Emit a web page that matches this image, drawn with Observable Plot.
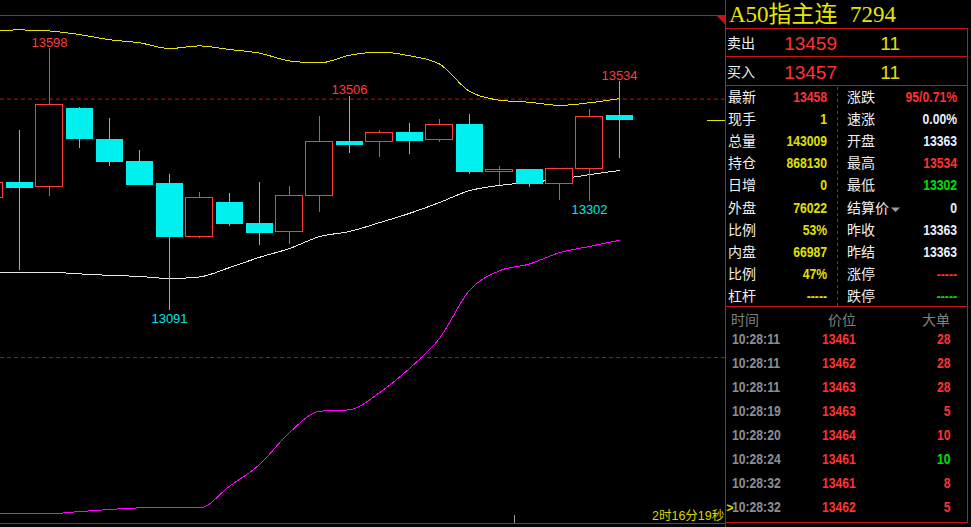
<!DOCTYPE html>
<html><head><meta charset="utf-8">
<script src="https://cdn.jsdelivr.net/npm/d3@7"></script>
<script src="https://cdn.jsdelivr.net/npm/@observablehq/plot@0.6"></script>
<style>
html,body{margin:0;padding:0;background:#000;}
#wrap{position:relative;width:971px;height:527px;overflow:hidden;background:#000;}
#chart{position:absolute;left:0;top:0;width:725px;height:527px;}
#panel{position:absolute;left:0;top:0;}
</style></head><body>
<div id="wrap"><div id="chart"></div><svg id="panel" width="971" height="527"></svg></div>
<script>
// ---- candle data (one bar per period, index 0..21) ----
const open  = [13308,13339,13330,13482,13422,13379,13337,13233,13300,13259,13243,13313,13418,13417,13435,13421,13451,13359,13364,13335,13364,13468];
const close = [13337,13328,13489,13422,13378,13333,13233,13308,13258,13241,13313,13417,13411,13435,13419,13450,13359,13363,13335,13365,13466,13458];
const high  = [13345,13439,13598,13484,13463,13401,13354,13319,13317,13339,13331,13466,13506,13439,13453,13461,13470,13370,13364,13365,13480,13534];
const low   = [13300,13168,13312,13405,13370,13332,13091,13231,13254,13217,13219,13281,13395,13388,13392,13417,13354,13333,13330,13304,13302,13386];
// ---- Bollinger bands ----
const upper = [13632,13634,13632,13625,13615,13609,13598,13603,13596,13589,13574,13570,13585,13591,13584,13568,13515,13498,13494,13488,13493,13501];
const mid   = [13165,13165,13165,13162,13159,13157,13153,13156,13174,13194,13211,13234,13244,13261,13279,13300,13323,13333,13339,13345,13354,13362];
const lower = [12697,12698,12698,12702,12706,12709,12709,12709,12751,12793,12855,12896,12899,12932,12979,13037,13130,13168,13181,13203,13215,13227];
// ---- annotations ----
const highMarks = [{i:2, v:13598}, {i:12, v:13506}, {i:21, v:13534}];
const lowMarks  = [{i:6, v:13091}, {i:20, v:13302}];
const gridLevels = [13500, 13000];
const lastPrice = 13458;
const timerText = "2时16分19秒";
// ---- side panel data ----
const title = "A50指主连";
const titleCode = "7294";
const quoteRows = [["卖出","13459","11"],["买入","13457","11"]];
const statLeft = [["最新","13458","r"],["现手","1","y"],["总量","143009","y"],["持仓","868130","y"],["日增","0","y"],["外盘","76022","y"],["比例","53%","y"],["内盘","66987","y"],["比例","47%","y"],["杠杆","-----","y"]];
const statRight = [["涨跌","95/0.71%","r"],["速涨","0.00%","w"],["开盘","13363","w"],["最高","13534","r"],["最低","13302","g"],["结算价","0","w"],["昨收","13363","w"],["昨结","13363","w"],["涨停","-----","r"],["跌停","-----","g"]];
const tradeHeader = ["时间","价位","大单"];
const trades = [["10:28:11","13461","28","r"],["10:28:11","13462","28","r"],["10:28:11","13463","28","r"],["10:28:19","13463","5","r"],["10:28:20","13464","10","r"],["10:28:24","13461","10","g"],["10:28:32","13461","8","r"],["10:28:32","13462","5","r"]];

const UP = "#ff3c3c", DOWN = "#00f0f0";
const candles = open.map((o,i)=>({i, open:o, close:close[i], high:high[i], low:low[i]}));
const bandRows = upper.map((u,i)=>({i, upper:u, mid:mid[i], lower:lower[i]}));
const isUp = d => d.close >= d.open;

const chart = Plot.plot({
  width: 725, height: 527, margin: 0,
  style: {background: "#000", overflow: "hidden"},
  x: {type: "linear", domain: [11/30, 736/30], axis: null},
  y: {type: "linear", domain: [12671.2, 13690.9], axis: null},
  color: {type: "identity"},
  marks: [
    Plot.ruleY(gridLevels, {stroke: "#e00000", strokeWidth: 1, strokeDasharray: "4,3"}),
    Plot.line(bandRows, {x: "i", y: "upper", stroke: "#e6e600", strokeWidth: 1, curve: "monotone-x", shapeRendering: "crispEdges", clip: true}),
    Plot.line(bandRows, {x: "i", y: "mid", stroke: "#e8e8e8", strokeWidth: 1, curve: "monotone-x", shapeRendering: "crispEdges", clip: true}),
    Plot.line(bandRows, {x: "i", y: "lower", stroke: "#ff00ff", strokeWidth: 1, curve: "monotone-x", shapeRendering: "crispEdges", clip: true}),
    Plot.ruleX(candles, {x: "i", y1: "high", y2: d => Math.max(d.open, d.close), stroke: d => isUp(d) ? UP : DOWN, shapeRendering: "crispEdges", clip: true}),
    Plot.ruleX(candles, {x: "i", y1: "low", y2: d => Math.min(d.open, d.close), stroke: d => isUp(d) ? UP : DOWN, shapeRendering: "crispEdges", clip: true}),
    Plot.rect(candles, {x1: d => d.i - 0.45, x2: d => d.i + 0.45, y1: "open", y2: "close",
      fill: d => isUp(d) ? "#000" : DOWN, stroke: d => isUp(d) ? UP : "none", strokeWidth: 1, shapeRendering: "crispEdges", clip: true}),
    Plot.ruleY([lastPrice], {x1: 23.93, x2: 24.6, stroke: "#e6e600", shapeRendering: "crispEdges"}),
    Plot.text(highMarks, {x: "i", y: "v", text: d => String(d.v), fill: "#ff3c3c", lineAnchor: "bottom", dy: -2,
      fontSize: 13, fontFamily: "'Liberation Sans', Arial, sans-serif"}),
    Plot.text(lowMarks, {x: "i", y: "v", text: d => String(d.v), fill: "#00e6e6", lineAnchor: "top", dy: 3,
      fontSize: 13, fontFamily: "'Liberation Sans', Arial, sans-serif"})
  ]
});
document.getElementById("chart").appendChild(chart);

// ---- panel & frame decorations ----
const svg = d3.select("#panel");
const RED="#ff3232", YEL="#e0e000", GRN="#00e000", WHT="#e8f0ff", LINE="#c81414";
const colorOf = c => ({r:RED, y:YEL, g:GRN, w:WHT}[c]);
const SANS = "'Liberation Sans', Arial, 'Noto Sans CJK SC', sans-serif";
const CJK = "'Noto Sans CJK SC', sans-serif";
function T(x, cy, s, o={}) {
  const size = o.size || 14;
  svg.append("text")
    .attr("transform", `translate(${x},${cy + size*0.36}) scale(${o.sx||1},1)`)
    .attr("text-anchor", o.anchor || "start")
    .attr("font-size", size)
    .attr("font-family", o.family || SANS)
    .attr("font-weight", o.weight || "normal")
    .attr("fill", o.color || "#fff")
    .text(s);
}
function L(x1,y1,x2,y2,o={}) {
  svg.append("line").attr("x1",x1).attr("y1",y1).attr("x2",x2).attr("y2",y2)
    .attr("stroke", o.color || LINE).attr("stroke-width",1)
    .attr("stroke-dasharray", o.dash || null);
}
// chart frame
L(0,15.5,725,15.5);
L(0,523.5,725,523.5);
L(725.5,0,725.5,527);
svg.append("polygon").attr("points","716,15 725.5,15 725.5,25").attr("fill",LINE);
L(514.5,515,514.5,523,{color:"#9a9a9a"});
T(652, 515, timerText, {size:12.5, color:"#d8d800"});
// panel box
L(726,28.5,968,28.5); L(967.5,28.5,967.5,523); L(726,522.5,968,522.5);
L(726,56.5,968,56.5); L(726,85.5,968,85.5); L(726,306.5,968,306.5);
L(837.5,87,837.5,306,{dash:"3,3"});
// title
T(729, 13.5, title, {size:23, family:"'Liberation Serif', 'Noto Sans CJK SC', serif", color:"#e6e600"});
T(850, 13.5, titleCode, {size:23, family:"'Liberation Serif', serif", color:"#e6e600"});
// quote rows
quoteRows.forEach((r,k) => {
  const cy = 43 + k*29;
  T(727, cy, r[0], {size:14, family:CJK, color:"#f0f0f0"});
  T(837, cy, r[1], {size:19, anchor:"end", color:RED});
  T(900, cy, r[2], {size:19, anchor:"end", color:YEL});
});
// stats
statLeft.forEach((r,k) => {
  const cy = 97 + k*22.1;
  T(728, cy, r[0], {size:14, family:CJK, color:"#f0f0f0"});
  T(827, cy, r[1], {size:14, weight:"bold", sx:0.87, anchor:"end", color:colorOf(r[2])});
});
statRight.forEach((r,k) => {
  const cy = 97 + k*22.1;
  T(847, cy, r[0], {size:14, family:CJK, color:"#f0f0f0"});
  T(957, cy, r[1], {size:14, weight:"bold", sx:0.87, anchor:"end", color:colorOf(r[2])});
});
svg.append("polygon").attr("points","891,207.5 900,207.5 895.5,212").attr("fill","#a0a0a0");
// trades
T(731, 319.5, tradeHeader[0], {size:14, family:CJK, color:"#808080"});
T(828, 319.5, tradeHeader[1], {size:14, family:CJK, color:"#808080"});
T(950, 319.5, tradeHeader[2], {size:14, family:CJK, color:"#808080", anchor:"end"});
trades.forEach((r,k) => {
  const cy = 339.3 + k*24;
  T(732, cy, r[0], {size:14, weight:"bold", sx:0.87, color:"#8a8e96"});
  T(822, cy, r[1], {size:14, weight:"bold", sx:0.87, color:RED});
  T(950.5, cy, r[2], {size:14, weight:"bold", sx:0.87, anchor:"end", color:colorOf(r[3])});
  if (k === trades.length - 1) T(726.5, cy, ">", {size:12, weight:"bold", color:YEL});
});
</script>
</body></html>
